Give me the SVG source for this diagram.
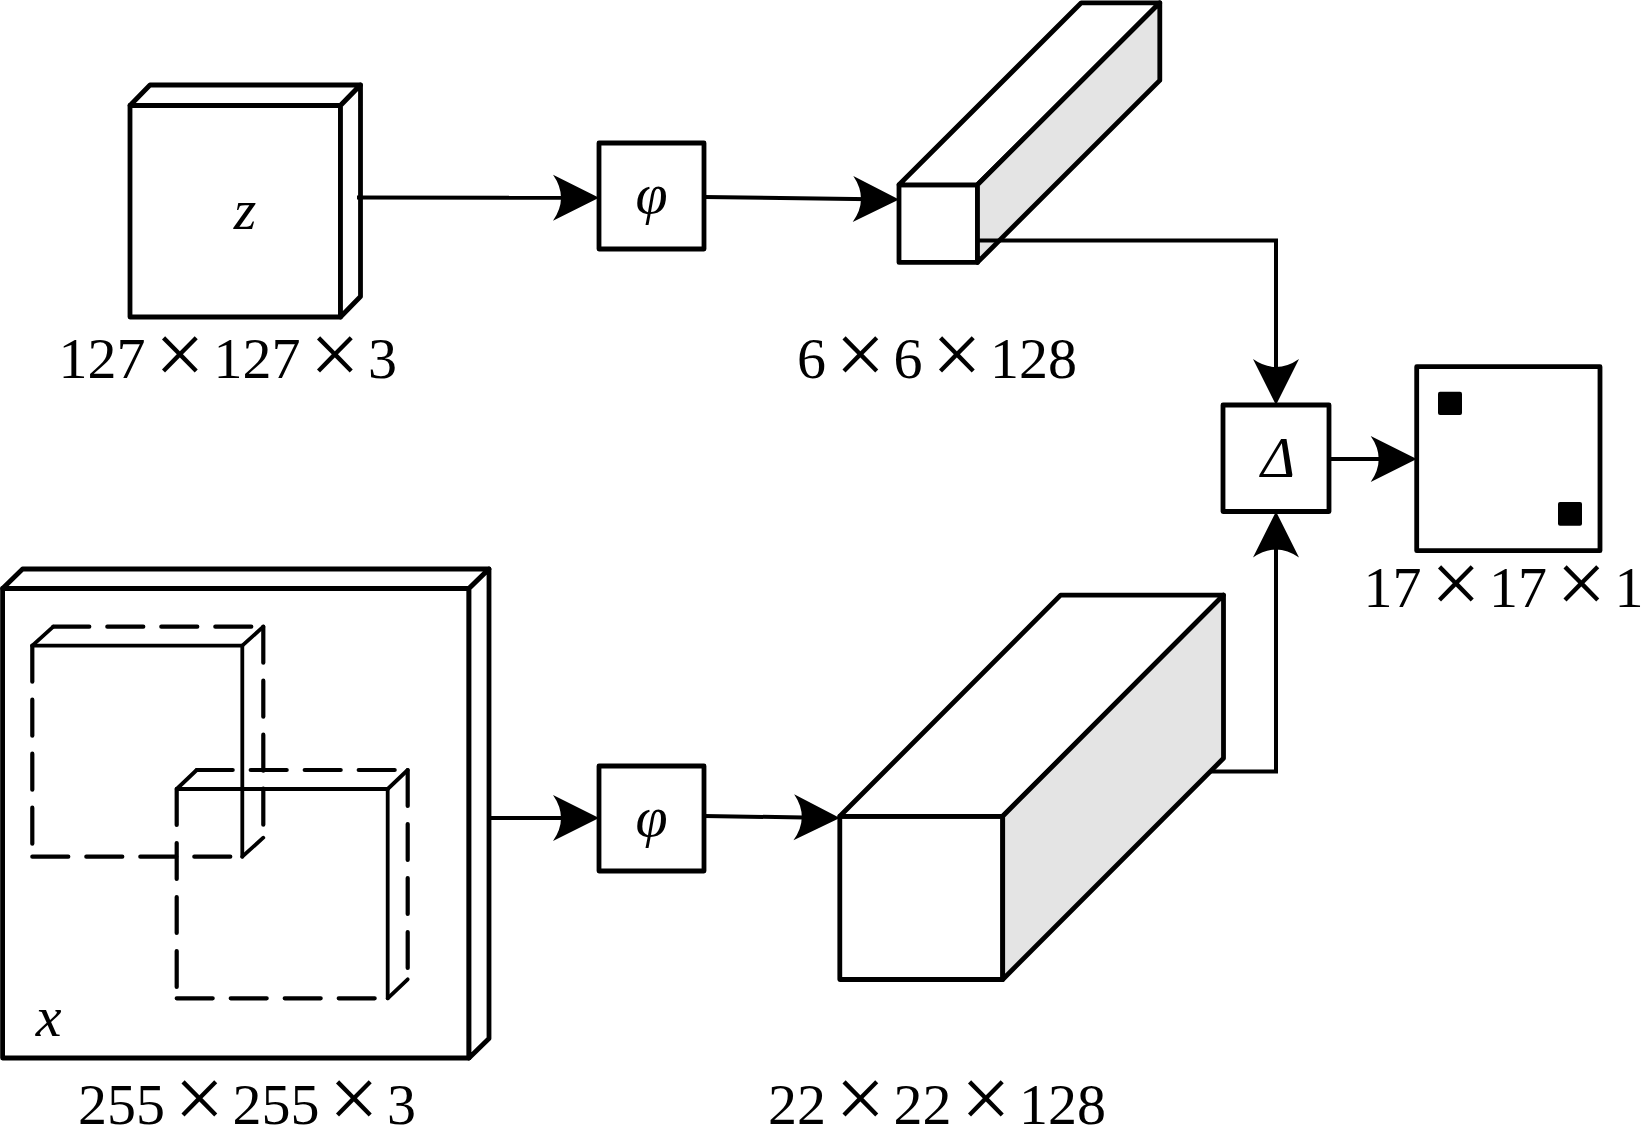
<svg xmlns="http://www.w3.org/2000/svg" width="1648" height="1148" viewBox="0 0 1648 1148">
<defs>
<style>
.f{fill:#fff;stroke:#000;stroke-width:4.8;stroke-linejoin:round;stroke-linecap:round}
.g{fill:#e4e4e4;stroke:#000;stroke-width:4.8;stroke-linejoin:round;stroke-linecap:round}
.s{fill:none;stroke:#000;stroke-width:3.8;stroke-linecap:round}
.d{fill:none;stroke:#000;stroke-width:4.2;stroke-dasharray:36 18;stroke-linecap:round}
.c{fill:none;stroke:#000;stroke-width:4}
.t{font-family:"Liberation Serif","Times New Roman",serif;font-size:58px;fill:#000}
.i{font-style:italic;text-anchor:middle}
.x{font-size:88px}
</style>
<marker id="ah" markerUnits="userSpaceOnUse" viewBox="-48 -25 50 50" markerWidth="50" markerHeight="50" refX="-8" refY="0" orient="auto">
<path d="M0,0 L-46,-23 Q-30,0 -46,23 Z" fill="#000"/>
</marker>
</defs>
<rect width="1648" height="1148" fill="#fff"/>

<g id="input-z">
<rect class="f" x="130" y="105.5" width="210.5" height="211.5"/>
<polygon class="f" points="130,105.5 150,85 360.5,85 340.5,105.5"/>
<polygon class="f" points="340.5,105.5 360.5,85 360.5,296.5 340.5,317"/>
<text class="t i" x="245" y="229">z</text>
<text class="t"><tspan x="58.6" y="378">127</tspan><tspan class="x" x="155" y="384">×</tspan><tspan x="213.5" y="378">127</tspan><tspan class="x" x="310" y="384">×</tspan><tspan x="368" y="378">3</tspan></text>
</g>

<g id="phi-1">
<rect class="f" x="599" y="143" width="105" height="106"/>
<text class="t i" x="651.5" y="213" font-size="72">φ</text>
</g>

<g id="feat-z">
<rect class="f" x="899" y="184.8" width="78.5" height="77.6"/>
<polygon class="f" points="899,184.8 1081.3,2.8 1159.8,2.8 977.5,184.8"/>
<polygon class="g" points="977.5,184.8 1159.8,2.8 1159.8,80.4 977.5,262.4"/>
<text class="t"><tspan x="797" y="378">6</tspan><tspan class="x" x="835.5" y="384">×</tspan><tspan x="893.5" y="378">6</tspan><tspan class="x" x="932" y="384">×</tspan><tspan x="990" y="378">128</tspan></text>
</g>

<g id="corr">
<rect class="f" x="1223" y="405" width="106" height="106.5"/>
<text class="t i" x="1278" y="477">Δ</text>
</g>

<g id="score">
<rect class="f" x="1416.7" y="366.7" width="183.3" height="184"/>
<rect x="1438" y="391.7" width="24" height="23.3" rx="2" fill="#000"/>
<rect x="1558" y="502" width="24" height="23.7" rx="2" fill="#000"/>
<text class="t"><tspan x="1363.6" y="607">17</tspan><tspan class="x" x="1431.1" y="613">×</tspan><tspan x="1489.1" y="607">17</tspan><tspan class="x" x="1556.6" y="613">×</tspan><tspan x="1614.6" y="607">1</tspan></text>
</g>

<g id="input-x">
<rect class="f" x="2.6" y="588.5" width="466.4" height="469.5"/>
<polygon class="f" points="2.6,588.5 22.6,569 489,569 469,588.5"/>
<polygon class="f" points="469,588.5 489,569 489,1038.5 469,1058"/>
<g id="window-1">
<line class="d" x1="32.3" y1="645.7" x2="32.3" y2="856.7"/>
<line class="d" x1="32.3" y1="856.7" x2="242.3" y2="856.7"/>
<line class="d" x1="53.3" y1="626.7" x2="263.3" y2="626.7"/>
<line class="d" x1="263.3" y1="626.7" x2="263.3" y2="837.7"/>
<line class="s" x1="32.3" y1="645.7" x2="242.3" y2="645.7"/>
<line class="s" x1="242.3" y1="645.7" x2="242.3" y2="856.7"/>
<line class="s" x1="32.3" y1="645.7" x2="53.3" y2="626.7"/>
<line class="s" x1="242.3" y1="645.7" x2="263.3" y2="626.7"/>
<line class="s" x1="242.3" y1="856.7" x2="263.3" y2="837.7"/>
</g>
<g id="window-2">
<line class="d" x1="176.7" y1="789" x2="176.7" y2="998.3"/>
<line class="d" x1="176.7" y1="998.3" x2="387.7" y2="998.3"/>
<line class="d" x1="196.7" y1="770" x2="407.7" y2="770"/>
<line class="d" x1="407.7" y1="770" x2="407.7" y2="979.3"/>
<line class="s" x1="176.7" y1="789" x2="387.7" y2="789"/>
<line class="s" x1="387.7" y1="789" x2="387.7" y2="998.3"/>
<line class="s" x1="176.7" y1="789" x2="196.7" y2="770"/>
<line class="s" x1="387.7" y1="789" x2="407.7" y2="770"/>
<line class="s" x1="387.7" y1="998.3" x2="407.7" y2="979.3"/>
</g>
<text class="t i" x="48.6" y="1036">x</text>
<text class="t"><tspan x="78" y="1124">255</tspan><tspan class="x" x="174.5" y="1128">×</tspan><tspan x="232.5" y="1124">255</tspan><tspan class="x" x="329" y="1128">×</tspan><tspan x="387" y="1124">3</tspan></text>
</g>

<g id="phi-2">
<rect class="f" x="599" y="766" width="105" height="105"/>
<text class="t i" x="651.5" y="835.5" font-size="72">φ</text>
</g>

<g id="feat-x">
<rect class="f" x="839.8" y="816.3" width="162.9" height="163.2"/>
<polygon class="f" points="839.8,816.3 1060.6,595.1 1223.5,595.1 1002.7,816.3"/>
<polygon class="g" points="1002.7,816.3 1223.5,595.1 1223.5,758.3 1002.7,979.5"/>
<text class="t"><tspan x="768" y="1124">22</tspan><tspan class="x" x="835.5" y="1128">×</tspan><tspan x="893.5" y="1124">22</tspan><tspan class="x" x="961" y="1128">×</tspan><tspan x="1019" y="1124">128</tspan></text>
</g>

<g id="connectors">
<line class="c" x1="357" y1="197.5" x2="591" y2="197.8" marker-end="url(#ah)"/>
<line class="c" x1="704" y1="197" x2="891" y2="199.4" marker-end="url(#ah)"/>
<path class="c" d="M977.5,240.5 H1276 V397" marker-end="url(#ah)"/>
<path class="c" d="M1210,771.6 H1276 V519.5" marker-end="url(#ah)"/>
<line class="c" x1="1329" y1="459" x2="1408.7" y2="459" marker-end="url(#ah)"/>
<line class="c" x1="489" y1="818" x2="591" y2="818" marker-end="url(#ah)"/>
<line class="c" x1="704" y1="816" x2="831.8" y2="817.9" marker-end="url(#ah)"/>
</g>
</svg>
